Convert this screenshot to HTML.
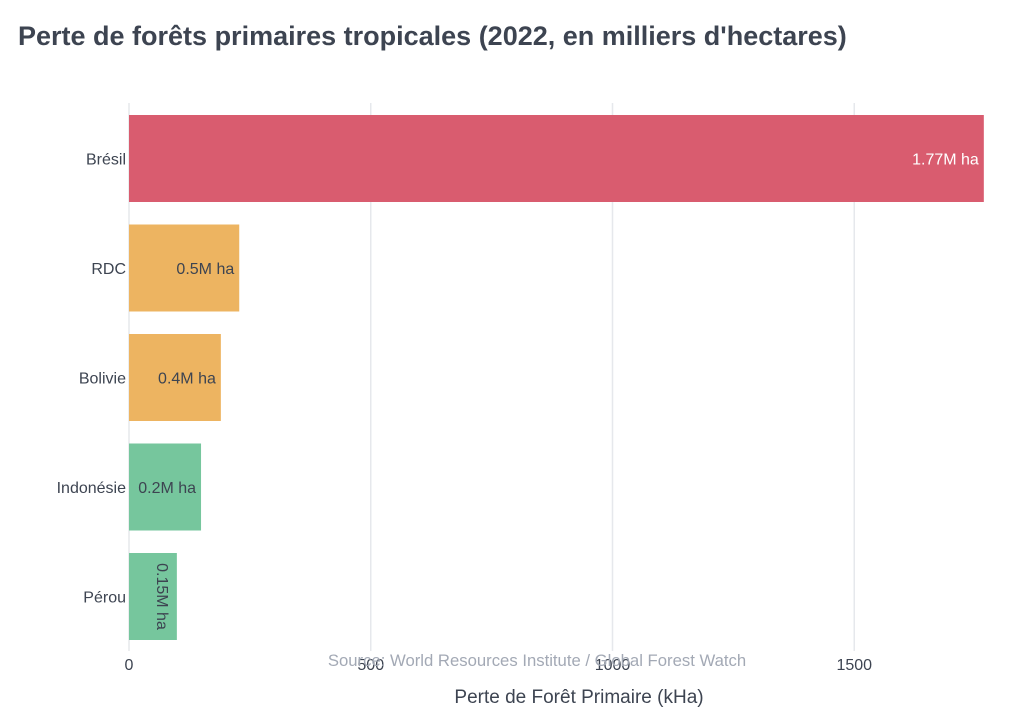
<!DOCTYPE html>
<html><head><meta charset="utf-8"><style>
body{margin:0;background:#fff;width:1024px;height:721px;overflow:hidden;font-family:"Liberation Sans",sans-serif}
</style></head><body>
<svg id="chart" width="1024" height="721">
<text x="18" y="45" font-size="27" font-weight="bold" fill="#3d4451">Perte de forêts primaires tropicales (2022, en milliers d'hectares)</text>
<g id="grid"></g><g id="bars"></g>
<text x="537" y="666" font-size="16.7" fill="#a3a9b5" text-anchor="middle">Source: World Resources Institute / Global Forest Watch</text>
<text x="579" y="703" font-size="19" fill="#3d4451" text-anchor="middle">Perte de Forêt Primaire (kHa)</text>
</svg>
<script>
const categories=["Brésil","RDC","Bolivie","Indonésie","Pérou"];
const values=[1768,228,190,149,99];
const labels=["1.77M ha","0.5M ha","0.4M ha","0.2M ha","0.15M ha"];
const colors=["#d95c6f","#edb461","#76c69d","#76c69d","#76c69d"];
const colorIdx=[0,1,1,2,2];
const ticks=[0,500,1000,1500];
const ns="http://www.w3.org/2000/svg";
const x=v=>129+v*0.4835;
const y=i=>115+i*109.5;
const bh=87;
function mk(t,a,p){const e=document.createElementNS(ns,t);for(const k in a)e.setAttribute(k,a[k]);p.appendChild(e);return e;}
const g=document.getElementById('grid'),b=document.getElementById('bars');
ticks.forEach(t=>{
 const l=mk('line',{x1:x(t),x2:x(t),y1:103,y2:651,stroke:'#e6e8ec','stroke-width':1.5},g);
 
 
 const tx=mk('text',{x:x(t),y:670,'font-size':16,fill:'#3d4451','text-anchor':'middle'},g);
 tx.textContent=t;
 
 
});
categories.forEach((c,i)=>{
 const r=mk('rect',{x:x(0),y:y(i),width:x(values[i])-x(0),height:bh,fill:colors[colorIdx[i]]},b);
 
 
 const t=mk('text',{x:126,y:y(i)+bh/2+6,'font-size':16,fill:'#3d4451','text-anchor':'end'},b);
 t.textContent=c;
 
 
 const v=mk('text',{'font-size':16,fill:i==0?'#fff':'#3d4451'},b);
 v.textContent=labels[i];
 
 
 if(i==4){
  const cx=x(values[i])-20,cy=y(i)+bh/2;
  v.setAttribute('x',cx);v.setAttribute('y',cy);
  v.setAttribute('text-anchor','middle');
  v.setAttribute('transform','rotate(90 '+cx+' '+cy+')');
 } else {
  v.setAttribute('x',x(values[i])-5);v.setAttribute('y',y(i)+bh/2+6);
  v.setAttribute('text-anchor','end');
 }
});
</script>
</body></html>
